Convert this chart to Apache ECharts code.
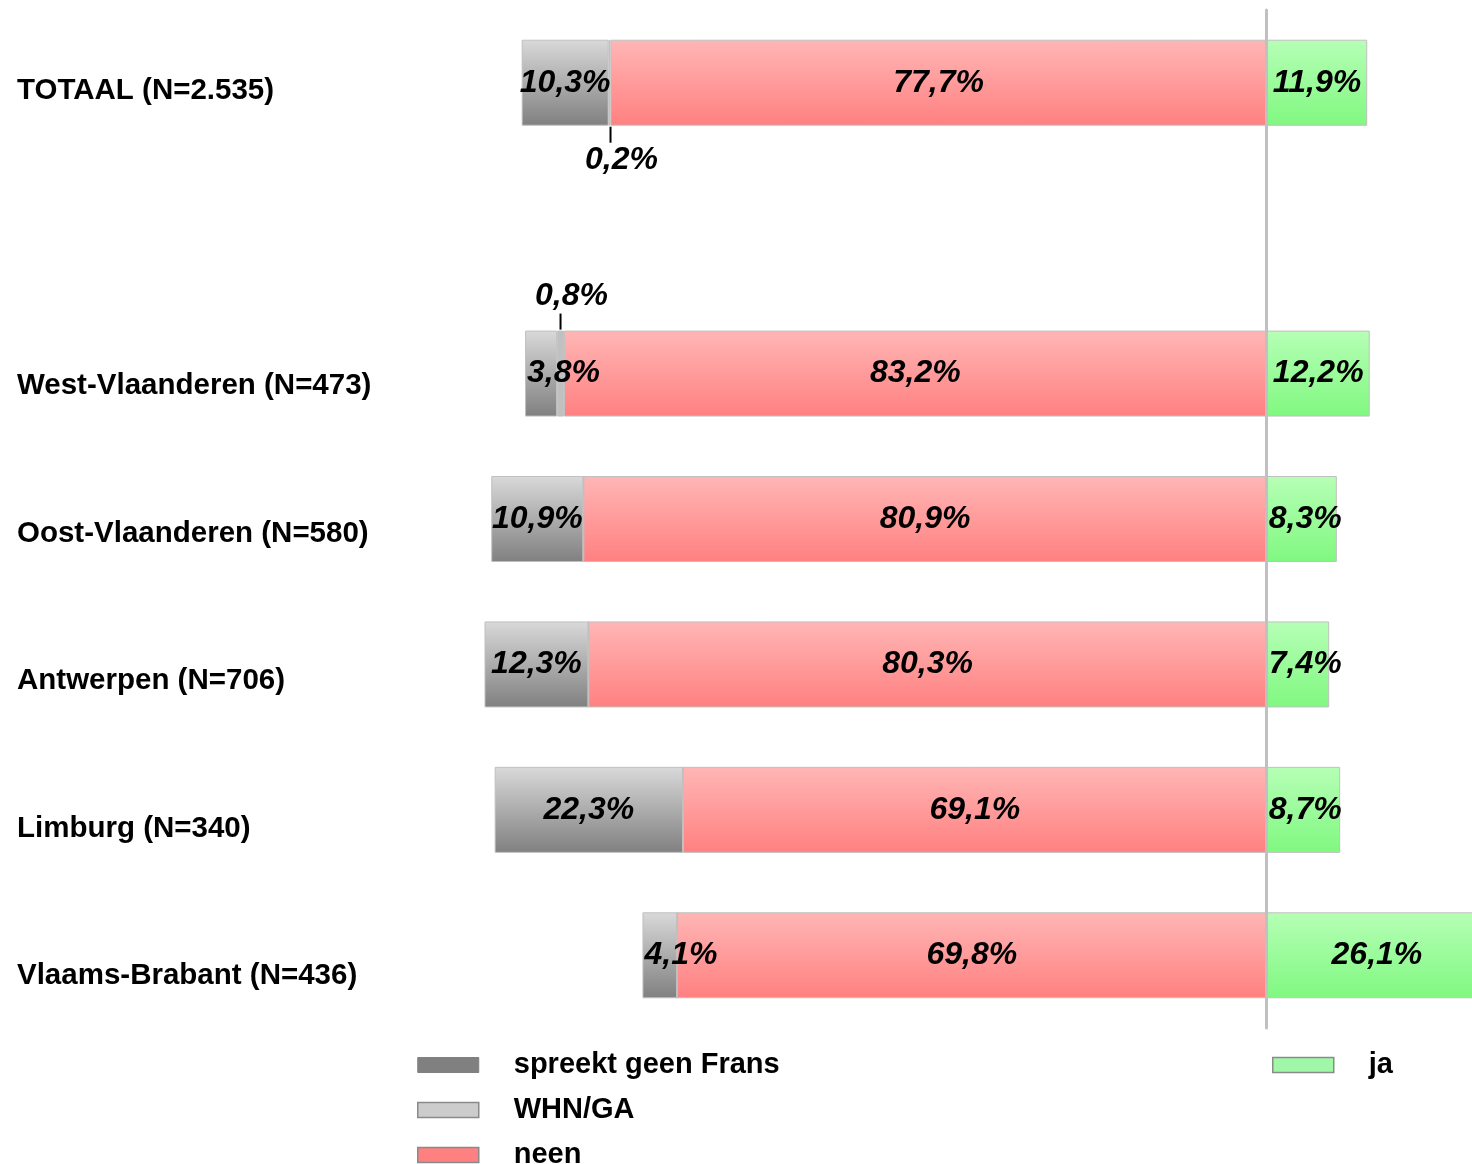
<!DOCTYPE html>
<html>
<head>
<meta charset="utf-8">
<script src="https://cdn.jsdelivr.net/npm/echarts@6/dist/echarts.min.js"></script>
<style>
  html, body { margin: 0; padding: 0; background: #ffffff; }
  #chart { width: 1472px; height: 1164px; }
</style>
</head>
<body>
<div id="chart"></div>
<script>
const categories = [
  "TOTAAL (N=2.535)",
  "",
  "West-Vlaanderen (N=473)",
  "Oost-Vlaanderen (N=580)",
  "Antwerpen (N=706)",
  "Limburg (N=340)",
  "Vlaams-Brabant (N=436)",
];
const geenFrans = [10.3, null, 3.8, 10.9, 12.3, 22.3, 4.1];
const whnGa = [0.2, null, 0.8, 0, 0, 0, 0];
const neen = [77.7, null, 83.2, 80.9, 80.3, 69.1, 69.8];
const ja = [11.9, null, 12.2, 8.3, 7.4, 8.7, 26.1];

const fontFamily = "'Liberation Sans', Arial, sans-serif";

function pct(value) {
  return `${Math.abs(value).toFixed(1).replace(".", ",")}%`;
}

function gradient(top, bottom) {
  return new echarts.graphic.LinearGradient(0, 0, 0, 1, [
    { offset: 0, color: top },
    { offset: 1, color: bottom },
  ]);
}

const valueLabel = {
  show: true,
  position: "inside",
  color: "#000",
  fontFamily,
  fontSize: 32,
  fontWeight: "bold",
  fontStyle: "italic",
  formatter: (p) => pct(p.value),
};

const border = { borderColor: "#c0c0c0", borderWidth: 1 };

// narrow segments: label starts at the bar edge and runs over
const narrowLeft = [2, 6];

const geenData = geenFrans.map((v, i) => {
  if (v === null) return null;
  const item = { value: -v };
  if (narrowLeft.includes(i)) {
    item.label = { position: "insideLeft", distance: 2 };
  }
  return item;
});

const jaData = ja.map((v) => {
  if (v === null) return null;
  const item = { value: v };
  if (v < 10) item.label = { position: "insideLeft", distance: 2 };
  return item;
});

const leaderRich = {
  ln: { width: 2, height: 16, backgroundColor: "#000" },
  sp: { width: 22, height: 16 },
  v: { fontFamily, fontSize: 32, fontWeight: "bold", fontStyle: "italic", color: "#000", lineHeight: 34 },
};

const whnData = whnGa.map((v, i) => {
  if (v === null) return null;
  const item = { value: -v };
  if (i === 0) {
    item.label = {
      show: true,
      position: "bottom",
      distance: 1,
      offset: [12, 0],
      formatter: (p) => `{ln|}{sp|}\n{v|${pct(p.value)}}`,
      rich: leaderRich,
    };
  } else if (i === 2) {
    item.label = {
      show: true,
      position: "top",
      distance: 1,
      offset: [11, 0],
      formatter: (p) => `{v|${pct(p.value)}}\n{ln|}{sp|}`,
      rich: leaderRich,
    };
  }
  return item;
});

const legendText = {
  color: "#000",
  fontFamily,
  fontSize: 29,
  fontWeight: "bold",
  lineHeight: 30,
  padding: [0, 0, 0, 30],
};

const chart = echarts.init(document.getElementById("chart"));

chart.setOption({
  animation: false,
  grid: [
    { left: 422, width: 1066, top: 10, bottom: 136, outerBoundsMode: "none" },
    { left: 480, right: 0, top: 17, bottom: 114, outerBoundsMode: "none" },
  ],
  xAxis: [
    { type: "value", gridIndex: 0, min: -100, max: 26.2, show: false },
    { type: "value", gridIndex: 1, show: false },
  ],
  yAxis: [
    {
      type: "category",
      gridIndex: 0,
      inverse: true,
      data: categories,
      z: 5,
      axisLabel: { show: false },
      axisTick: { show: false },
      axisLine: { show: true, onZero: true, lineStyle: { color: "#c0c0c0", width: 3 } },
    },
    {
      type: "category",
      gridIndex: 1,
      inverse: true,
      data: categories,
      axisTick: { show: false },
      axisLine: { show: false },
      axisLabel: {
        align: "left",
        margin: 463,
        color: "#000",
        fontFamily,
        fontSize: 29.5,
        fontWeight: "bold",
      },
    },
  ],
  legend: [
    {
      orient: "vertical",
      left: 417,
      top: 1050,
      height: 130,
      padding: 0,
      itemWidth: 61,
      itemHeight: 15,
      itemGap: 15,
      selectedMode: false,
      icon: "rect",
      textStyle: legendText,
      data: [
        { name: "spreekt geen Frans", itemStyle: { color: "#808080", borderColor: "#808080", borderWidth: 1 } },
        { name: "WHN/GA", itemStyle: { color: "#cccccc", borderColor: "#8a8a8a", borderWidth: 1.5 } },
        { name: "neen", itemStyle: { color: "#ff8080", borderColor: "#8a8a8a", borderWidth: 1.5 } },
      ],
    },
    {
      orient: "vertical",
      left: 1272,
      top: 1050,
      padding: 0,
      itemWidth: 61,
      itemHeight: 15,
      selectedMode: false,
      icon: "rect",
      textStyle: legendText,
      data: [{ name: "ja", itemStyle: { color: "#a0f7a8", borderColor: "#8a8a8a", borderWidth: 1.5 } }],
    },
  ],
  series: [
    {
      name: "neen",
      type: "bar",
      stack: "total",
      barWidth: 86,
      itemStyle: { color: gradient("#ffb6b6", "#ff8080"), ...border },
      label: valueLabel,
      data: neen.map((v) => (v === null ? null : -v)),
    },
    {
      name: "WHN/GA",
      type: "bar",
      stack: "total",
      barWidth: 86,
      itemStyle: { color: "#c0c0c0", ...border },
      label: { show: false },
      data: whnData,
    },
    {
      name: "spreekt geen Frans",
      type: "bar",
      stack: "total",
      barWidth: 86,
      itemStyle: { color: gradient("#d9d9d9", "#808080"), ...border },
      label: valueLabel,
      data: geenData,
    },
    {
      name: "ja",
      type: "bar",
      stack: "total",
      barWidth: 86,
      itemStyle: { color: gradient("#b6ffb6", "#80f880"), ...border },
      label: valueLabel,
      data: jaData,
    },
  ],
});
</script>
</body>
</html>
